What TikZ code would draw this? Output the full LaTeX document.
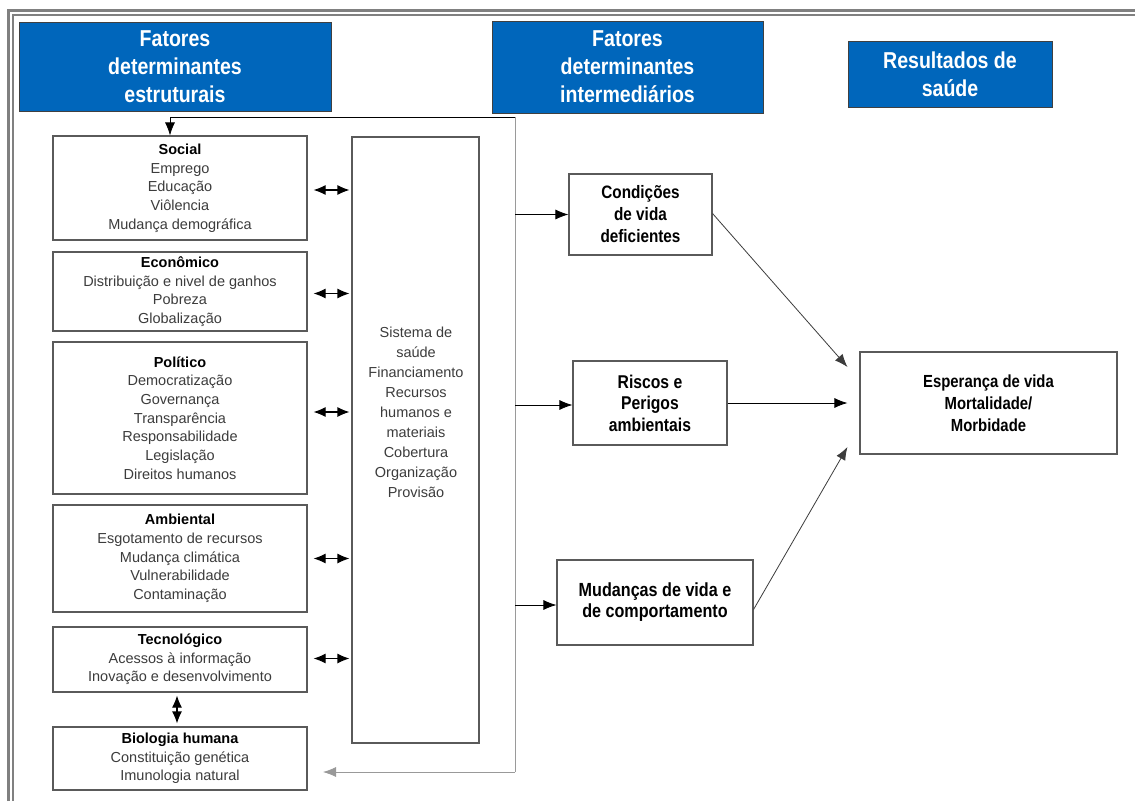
\documentclass[tikz,border=0pt]{standalone}
\usepackage{fontspec}
\setmainfont{Liberation Sans}
\newfontfamily\condA[FakeStretch=0.85]{Liberation Sans}
\usetikzlibrary{arrows.meta,calc}
\definecolor{hblue}{RGB}{0,102,187}
\definecolor{boxgray}{RGB}{90,90,90}
\definecolor{textgray}{RGB}{60,60,60}
\definecolor{framegray}{RGB}{128,128,128}
\begin{document}
\begin{tikzpicture}[x=1pt,y=-1pt,
  hdr/.style={draw=black!75, line width=1pt, fill=hblue, text=white, align=center, inner sep=0pt,
    font=\condA\bfseries\fontsize{23}{28}\selectfont},
  lbox/.style={draw=boxgray, line width=1.1pt, align=center, inner sep=0pt, text=textgray,
    font=\fontsize{14.5}{18.7}\selectfont},
  rbox/.style={draw=boxgray, line width=1.1pt, align=center, inner sep=0pt, text=black},
  arr/.style={-{Latex[length=13pt,width=10pt]}, line width=0.8pt},
  darr/.style={{Latex[length=12pt,width=10pt]}-{Latex[length=12pt,width=10pt]}, line width=1.1pt}
]
\useasboundingbox[fill=white] (0,0) rectangle (1135,801);
% frame
\draw[framegray, line width=3pt] (8.5,801) -- (8.5,10.5) -- (1135,10.5);
\draw[framegray, line width=1.5pt] (13,801) -- (13,15) -- (1135,15);

% headers
\node[hdr, minimum width=312, minimum height=89] (h1) at (175,66.5) {Fatores\\determinantes\\estruturais};
\node[hdr, minimum width=271, minimum height=92] (h2) at (627.5,67) {Fatores\\determinantes\\intermediários};
\node[hdr, minimum width=204, minimum height=66] (h3) at (950,74) {Resultados de\\saúde};

% left boxes
\node[lbox, minimum width=254, minimum height=104] (social) at (180,188)
  {\textcolor{black}{\bfseries Social}\\Emprego\\Educação\\Viôlencia\\Mudança demográfica};
\node[lbox, minimum width=254, minimum height=79] (econ) at (180,291.5)
  {\textcolor{black}{\bfseries Econômico}\\Distribuição e nivel de ganhos\\Pobreza\\Globalização};
\node[lbox, minimum width=254, minimum height=152] (poli) at (180,418)
  {\textcolor{black}{\bfseries Político}\\Democratização\\Governança\\Transparência\\Responsabilidade\\Legislação\\Direitos humanos};
\node[lbox, minimum width=254, minimum height=107] (amb) at (180,558.5)
  {\textcolor{black}{\bfseries Ambiental}\\Esgotamento de recursos\\Mudança climática\\Vulnerabilidade\\Contaminação};
\node[lbox, minimum width=254, minimum height=65] (tec) at (180,659.5)
  {\textcolor{black}{\bfseries Tecnológico}\\Acessos à informação\\Inovação e desenvolvimento};
\node[lbox, minimum width=254, minimum height=63] (bio) at (180,758.5)
  {\textcolor{black}{\bfseries Biologia humana}\\Constituição genética\\Imunologia natural};

% center box
\node[lbox, minimum width=127, minimum height=606] (sys) at (415.5,440) {};
\node[align=center, inner sep=0pt, text=textgray, font=\fontsize{14.5}{20}\selectfont] (systxt) at (416,412)
  {Sistema de\\saúde\\Financiamento\\Recursos\\humanos e\\materiais\\Cobertura\\Organização\\Provisão};

% intermediate boxes
\node[rbox, minimum width=143, minimum height=81, font=\condA\bfseries\fontsize{18}{22}\selectfont] (cond) at (640.5,214.5)
  {Condições\\de vida\\deficientes};
\node[rbox, minimum width=154, minimum height=84, font=\condA\bfseries\fontsize{18.5}{21.5}\selectfont] (risc) at (650,403)
  {Riscos e\\Perigos\\ambientais};
\node[rbox, minimum width=196, minimum height=85, font=\condA\bfseries\fontsize{19}{21}\selectfont] (mud) at (655,602.5)
  {Mudanças de vida e\\de comportamento};
\node[rbox, minimum width=257, minimum height=102, font=\condA\bfseries\fontsize{17.5}{22}\selectfont] (esp) at (988.5,403)
  {Esperança de vida\\Mortalidade/\\Morbidade};

% bus / feedback loop
\coordinate (busTop) at (515,117);
\coordinate (busBot) at (515,772);
\coordinate (bioTip) at (323,772);
\draw[arr] (busTop) -| ([xshift=-10pt]social.north);
\draw[framegray!80, line width=1pt] (busTop) -- (busBot);
\draw[arr, draw=framegray!80] (busBot) -- (bioTip);

% bus to intermediate boxes
\draw[arr] (busTop |- cond.west) -- (cond.west);
\draw[arr] ([yshift=-2pt]busTop |- risc.west) -- ([yshift=-2pt]risc.west);
\draw[arr] ([yshift=-2.5pt]busTop |- mud.west) -- ([yshift=-2.5pt]mud.west);

% double arrows left boxes <-> system
\draw[darr] ([xshift=6pt,yshift=-2pt]social.east) -- ([xshift=-2pt,yshift=-2pt]social.east -| sys.west);
\draw[darr] ([xshift=6pt,yshift=-2pt]econ.east) -- ([xshift=-2pt,yshift=-2pt]econ.east -| sys.west);
\draw[darr] ([xshift=6pt,yshift=6pt]poli.east) -- ([xshift=-2pt,yshift=6pt]poli.east -| sys.west);
\draw[darr] ([xshift=6pt]amb.east) -- ([xshift=-2pt]amb.east -| sys.west);
\draw[darr] ([xshift=6pt,yshift=1pt]tec.east) -- ([xshift=-2pt,yshift=1pt]tec.east -| sys.west);
\draw[darr] ([xshift=-3pt,yshift=-3pt]tec.south) -- ([xshift=-3pt,yshift=3pt]bio.north);

% to results
\draw[arr, draw=textgray] ([yshift=1pt]cond.east) -- ($(esp.west)+(-12,-36)$);
\draw[arr] (risc.east) -- ($(esp.west)+(-12,0)$);
\draw[arr, draw=textgray] ([yshift=-7pt]mud.east) -- ($(esp.west)+(-12,44)$);
\end{tikzpicture}
\end{document}
